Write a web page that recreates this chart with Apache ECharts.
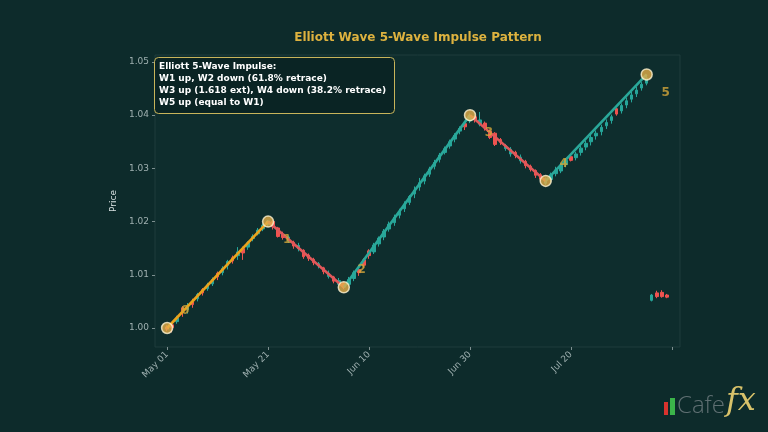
<!DOCTYPE html>
<html>
<head>
<meta charset="utf-8">
<script src="https://cdn.jsdelivr.net/npm/echarts@6/dist/echarts.min.js"></script>
<style>
html,body{margin:0;padding:0;background:#0d2b2b;}
#container{width:768px;height:432px;}
</style>
</head>
<body>
<div id="container"></div>
<script>
// 日期轴: 以 May 01 为第 0 天
var xTickDays = [0, 20, 40, 60, 80, 100];
var xTickLabels = ['May 01', 'May 21', 'Jun 10', 'Jun 30', 'Jul 20', ''];
var yTicks = [1.00, 1.01, 1.02, 1.03, 1.04, 1.05];

// [day, open, close, low, high]
var candles = [
    [0, 1.0002, 0.9998, 0.9994, 1.0005],
    [1, 1.0006, 1.0001, 0.9992, 1.0009],
    [2, 1.0012, 1.0019, 1.0008, 1.0023],
    [3, 1.0038, 1.0029, 1.0021, 1.0041],
    [4, 1.0035, 1.0042, 1.0027, 1.0047],
    [5, 1.0049, 1.0044, 1.0038, 1.0055],
    [6, 1.0055, 1.0063, 1.0050, 1.0066],
    [7, 1.0072, 1.0066, 1.0061, 1.0075],
    [8, 1.0074, 1.0081, 1.0070, 1.0085],
    [9, 1.0083, 1.0091, 1.0079, 1.0095],
    [10, 1.0103, 1.0096, 1.0090, 1.0106],
    [11, 1.0104, 1.0112, 1.0099, 1.0116],
    [12, 1.0118, 1.0125, 1.0110, 1.0128],
    [13, 1.0132, 1.0126, 1.0121, 1.0136],
    [14, 1.0136, 1.0143, 1.0128, 1.0152],
    [15, 1.0149, 1.0141, 1.0128, 1.0153],
    [16, 1.0152, 1.0160, 1.0147, 1.0163],
    [17, 1.0168, 1.0172, 1.0163, 1.0176],
    [18, 1.0177, 1.0184, 1.0174, 1.0188],
    [19, 1.0186, 1.0193, 1.0182, 1.0196],
    [20, 1.0195, 1.0201, 1.0190, 1.0203],
    [21, 1.0200, 1.0190, 1.0185, 1.0203],
    [22, 1.0188, 1.0172, 1.0170, 1.0190],
    [23, 1.0176, 1.0170, 1.0166, 1.0181],
    [24, 1.0164, 1.0171, 1.0160, 1.0174],
    [25, 1.0161, 1.0154, 1.0149, 1.0164],
    [26, 1.0149, 1.0155, 1.0144, 1.0160],
    [27, 1.0146, 1.0134, 1.0130, 1.0148],
    [28, 1.0137, 1.0131, 1.0126, 1.0140],
    [29, 1.0129, 1.0123, 1.0118, 1.0132],
    [30, 1.0117, 1.0121, 1.0112, 1.0124],
    [31, 1.0113, 1.0106, 1.0101, 1.0115],
    [32, 1.0097, 1.0103, 1.0093, 1.0108],
    [33, 1.0096, 1.0088, 1.0084, 1.0098],
    [34, 1.0082, 1.0089, 1.0080, 1.0094],
    [35, 1.0084, 1.0077, 1.0073, 1.0086],
    [36, 1.0082, 1.0091, 1.0078, 1.0096],
    [37, 1.0093, 1.0104, 1.0088, 1.0108],
    [38, 1.0110, 1.0104, 1.0098, 1.0118],
    [39, 1.0128, 1.0118, 1.0113, 1.0131],
    [40, 1.0145, 1.0136, 1.0130, 1.0148],
    [41, 1.0143, 1.0156, 1.0139, 1.0160],
    [42, 1.0158, 1.0169, 1.0153, 1.0172],
    [43, 1.0171, 1.0182, 1.0165, 1.0186],
    [44, 1.0186, 1.0195, 1.0181, 1.0200],
    [45, 1.0198, 1.0208, 1.0192, 1.0213],
    [46, 1.0212, 1.0219, 1.0206, 1.0224],
    [47, 1.0224, 1.0233, 1.0218, 1.0238],
    [48, 1.0236, 1.0247, 1.0231, 1.0250],
    [49, 1.0252, 1.0259, 1.0244, 1.0266],
    [50, 1.0265, 1.0273, 1.0258, 1.0282],
    [51, 1.0276, 1.0286, 1.0270, 1.0290],
    [52, 1.0289, 1.0299, 1.0284, 1.0303],
    [53, 1.0304, 1.0311, 1.0298, 1.0316],
    [54, 1.0317, 1.0325, 1.0311, 1.0329],
    [55, 1.0330, 1.0337, 1.0326, 1.0341],
    [56, 1.0342, 1.0350, 1.0337, 1.0354],
    [57, 1.0355, 1.0362, 1.0349, 1.0366],
    [58, 1.0370, 1.0375, 1.0364, 1.0379],
    [59, 1.0384, 1.0378, 1.0372, 1.0388],
    [60, 1.0389, 1.0399, 1.0385, 1.0403],
    [61, 1.0397, 1.0391, 1.0386, 1.0400],
    [62, 1.0383, 1.0391, 1.0379, 1.0406],
    [63, 1.0385, 1.0376, 1.0371, 1.0388],
    [64, 1.0370, 1.0358, 1.0355, 1.0373],
    [65, 1.0366, 1.0345, 1.0342, 1.0368],
    [66, 1.0354, 1.0349, 1.0344, 1.0357],
    [67, 1.0337, 1.0343, 1.0333, 1.0346],
    [68, 1.0327, 1.0336, 1.0322, 1.0340],
    [69, 1.0330, 1.0324, 1.0319, 1.0333],
    [70, 1.0314, 1.0321, 1.0309, 1.0326],
    [71, 1.0313, 1.0305, 1.0300, 1.0316],
    [72, 1.0304, 1.0298, 1.0294, 1.0307],
    [73, 1.0296, 1.0287, 1.0282, 1.0298],
    [74, 1.0288, 1.0280, 1.0276, 1.0291],
    [75, 1.0272, 1.0278, 1.0268, 1.0283],
    [76, 1.0279, 1.0288, 1.0274, 1.0292],
    [77, 1.0290, 1.0297, 1.0285, 1.0303],
    [78, 1.0295, 1.0306, 1.0291, 1.0310],
    [79, 1.0307, 1.0315, 1.0302, 1.0319],
    [80, 1.0322, 1.0315, 1.0313, 1.0324],
    [81, 1.0320, 1.0327, 1.0315, 1.0331],
    [82, 1.0330, 1.0338, 1.0324, 1.0343],
    [83, 1.0340, 1.0347, 1.0334, 1.0352],
    [84, 1.0350, 1.0358, 1.0343, 1.0363],
    [85, 1.0361, 1.0366, 1.0354, 1.0371],
    [86, 1.0369, 1.0377, 1.0362, 1.0382],
    [87, 1.0380, 1.0386, 1.0374, 1.0392],
    [88, 1.0390, 1.0397, 1.0384, 1.0401],
    [89, 1.0412, 1.0402, 1.0399, 1.0414],
    [90, 1.0408, 1.0418, 1.0403, 1.0422],
    [91, 1.0419, 1.0427, 1.0413, 1.0433],
    [92, 1.0430, 1.0438, 1.0424, 1.0444],
    [93, 1.0440, 1.0447, 1.0434, 1.0453],
    [94, 1.0451, 1.0458, 1.0446, 1.0462],
    [95, 1.0460, 1.0470, 1.0456, 1.0474],
    [96, 1.0052, 1.0062, 1.0050, 1.0064],
    [97, 1.0066, 1.0059, 1.0056, 1.0070],
    [98, 1.0067, 1.0059, 1.0057, 1.0071],
    [99, 1.0062, 1.0058, 1.0056, 1.0064]
];

// 波浪转折点
var waveDays = [0, 20, 35, 60, 75, 95];
var wavePrices = [1.0000, 1.0200, 1.00764, 1.0400, 1.02764, 1.04764];
var waveLabels = ['0', '1', '2', '3', '4', '5'];
var waveColors = ['#eaa31c', '#e0585b', '#2aa89a', '#e0585b', '#2aa89a'];

var noteLines = [
    'Elliott 5-Wave Impulse:',
    'W1 up, W2 down (61.8% retrace)',
    'W3 up (1.618 ext), W4 down (38.2% retrace)',
    'W5 up (equal to W1)'
];

var myChart = echarts.init(document.getElementById('container'));

var series = [];
series.push({
    type: 'candlestick',
    barWidth: 3,
    z: 2,
    itemStyle: {
        color: '#26a69a',
        color0: '#ef5350',
        borderColor: '#26a69a',
        borderColor0: '#ef5350',
        borderWidth: 1
    },
    data: candles
});
for (var i = 0; i < waveDays.length - 1; i++) {
    series.push({
        type: 'line',
        z: 3,
        symbol: 'none',
        lineStyle: {color: waveColors[i], width: 2.6},
        data: [[waveDays[i], wavePrices[i]], [waveDays[i + 1], wavePrices[i + 1]]]
    });
}
var pts = [];
for (var j = 0; j < waveDays.length; j++) {
    // 高点标签放在下方, 低点标签放在上方
    var up = j % 2 === 1;
    pts.push({
        value: [waveDays[j], wavePrices[j]],
        label: {formatter: waveLabels[j], offset: up ? [19, 18] : [18, -17]}
    });
}
series.push({
    type: 'scatter',
    z: 5,
    symbolSize: 11,
    itemStyle: {color: '#e5ae48', borderColor: '#fff4d2', borderWidth: 1.5},
    label: {
        show: true,
        position: 'inside',
        color: '#d4a63a',
        fontFamily: 'DejaVu Sans',
        fontWeight: 'bold',
        fontSize: 12
    },
    data: pts
});

var option = {
    backgroundColor: '#0d2b2b',
    animation: false,
    grid: {
        left: 155,
        right: 88,
        top: 55,
        bottom: 85,
        show: true,
        backgroundColor: '#0e2d2d',
        borderColor: '#1e3c3c',
        borderWidth: 1
    },
    xAxis: {
        type: 'value',
        min: -2.4,
        max: 101.6,
        splitLine: {show: false},
        axisLine: {show: false, onZero: false},
        axisTick: {
            show: true,
            length: 3,
            customValues: xTickDays,
            lineStyle: {color: '#7d8f8f'}
        },
        axisLabel: {
            customValues: xTickDays,
            rotate: 45,
            margin: 6,
            color: '#9fb0b0',
            fontFamily: 'DejaVu Sans',
            fontSize: 9,
            formatter: function (v) {
                var k = xTickDays.indexOf(Math.round(v));
                return k >= 0 ? xTickLabels[k] : '';
            }
        }
    },
    yAxis: {
        type: 'value',
        min: 0.99643,
        max: 1.0513,
        name: 'Price',
        nameLocation: 'middle',
        nameGap: 26,
        nameRotate: 90,
        nameTextStyle: {color: '#d7e0e0', fontFamily: 'DejaVu Sans', fontSize: 9},
        splitLine: {show: false},
        axisLine: {show: false, onZero: false},
        axisTick: {
            show: true,
            length: 3,
            customValues: yTicks,
            lineStyle: {color: '#7d8f8f'}
        },
        axisLabel: {
            customValues: yTicks,
            margin: 6,
            color: '#9fb0b0',
            fontFamily: 'DejaVu Sans',
            fontSize: 9,
            formatter: function (v) { return v.toFixed(2); }
        }
    },
    graphic: [
        {
            type: 'text',
            x: 418,
            y: 32,
            style: {
                text: 'Elliott Wave 5-Wave Impulse Pattern',
                fill: '#ddb23f',
                font: 'bold 12px "DejaVu Sans"',
                align: 'center'
            }
        },
        {
            type: 'rect',
            shape: {x: 154.5, y: 57.5, width: 240, height: 56, r: 4},
            style: {fill: 'rgba(10,36,36,0.9)', stroke: '#c8b45a', lineWidth: 1},
            z: 10
        },
        {
            type: 'text',
            x: 159,
            y: 61,
            z: 11,
            style: {
                text: noteLines.join('\n'),
                fill: '#ffffff',
                font: 'bold 9px "DejaVu Sans"',
                lineHeight: 11.8
            }
        },
        // Cafefx logo
        {type: 'rect', shape: {x: 664, y: 402, width: 4, height: 13}, style: {fill: '#d8332e'}},
        {type: 'rect', shape: {x: 670, y: 398, width: 5, height: 17}, style: {fill: '#3bb44a'}},
        {
            type: 'text', x: 677, y: 394,
            style: {text: 'Cafe', fill: '#5f6f72', font: '300 24px "Open Sans"'}
        },
        {
            type: 'text', x: 726, y: 386,
            style: {text: 'fx', fill: '#d8c26a', font: 'italic 32px "DejaVu Serif"'}
        }
    ],
    series: series
};
myChart.setOption(option);
</script>
</body>
</html>
